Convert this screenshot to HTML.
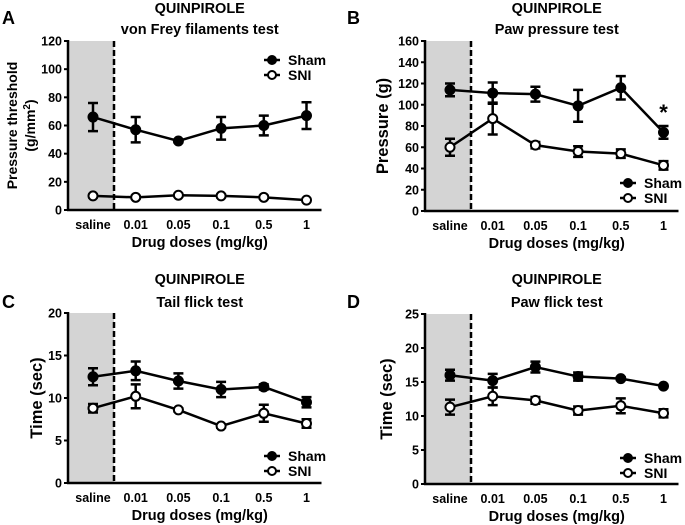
<!DOCTYPE html>
<html><head><meta charset="utf-8"><style>
body{margin:0;background:#fff}
svg{display:block}
svg text{font-family:"Liberation Sans",Arial,sans-serif;font-weight:700}
</style></head><body>
<svg id="fig" width="685" height="525" viewBox="0 0 685 525"></svg>
<script>
const categories=["saline","0.01","0.05","0.1","0.5","1"];
const shamA=[66,57,49,58,60,67], shamAErr=[10,9,1,8,7,9.5];
const sniA=[10,9,10.5,10,9,7], sniAErr=[1,1,1,1,1,1];
const shamB=[114,111,110,99,116,74], shamBErr=[6,10,7,15,11,6];
const sniB=[60,87,62,56,54,43], sniBErr=[8,15,3,5,4,4];
const shamC=[12.5,13.2,12,11,11.3,9.5], shamCErr=[1,1.1,0.9,0.9,0.3,0.6];
const sniC=[8.8,10.2,8.6,6.7,8.2,7], sniCErr=[0.5,1.4,0.2,0.2,1,0.5];
const shamD=[16,15.2,17.2,15.8,15.5,14.4], shamDErr=[0.8,1,0.8,0.6,0.2,0.2];
const sniD=[11.3,12.9,12.3,10.8,11.5,10.4], sniDErr=[1.1,1.3,0.5,0.6,1.1,0.6];
const ticksA=[0,20,40,60,80,100,120], ticksB=[0,20,40,60,80,100,120,140,160];
const ticksC=[0,5,10,15,20], ticksD=[0,5,10,15,20,25];

const NS="http://www.w3.org/2000/svg", svg=document.getElementById('fig');
function mk(tag,attrs,parent,name){const e=document.createElementNS(NS,tag);for(const k in attrs)e.setAttribute(k,attrs[k]);


(parent||svg).appendChild(e);return e;}
function txt(s,attrs,parent,name){attrs['font-weight']='bold';const e=mk('text',attrs,parent,name);e.textContent=s;return e;}

function panel(o){
  const g=mk('g',{},svg,'panel-'+o.letter.toLowerCase());
  const ymax=o.ticks[o.ticks.length-1];
  const Y=v=>o.y0-(v/ymax)*(o.y0-o.y1);
  const X=i=>o.x0+25+i*42.7;
  mk('rect',{x:o.x0,y:o.y1,width:46,height:o.y0-o.y1,fill:'#d4d4d4'},g,'saline-shade');
  mk('line',{x1:o.x0+46,y1:o.y1,x2:o.x0+46,y2:o.y0,stroke:'#000','stroke-width':2.5,'stroke-dasharray':'6,3'},g,'baseline-divider');
  mk('line',{x1:o.x0,y1:o.y1-1,x2:o.x0,y2:o.y0+1,stroke:'#000','stroke-width':2.5},g,'y-axis');
  mk('line',{x1:o.x0-1,y1:o.y0,x2:X(5)+15,y2:o.y0,stroke:'#000','stroke-width':2.5},g,'x-axis');
  o.ticks.forEach(t=>{mk('line',{x1:o.x0-4,y1:Y(t),x2:o.x0,y2:Y(t),stroke:'#000','stroke-width':2},g,'y-tick');
    txt(String(t),{x:o.x0-6,y:Y(t)+4.5,'text-anchor':'end','font-size':12.5},g,'y-tick-label');});
  categories.forEach((c,i)=>txt(c,{x:X(i),y:o.y0+19,'text-anchor':'middle','font-size':12.5},g,'x-tick-label'));
  txt('Drug doses (mg/kg)',{x:X(2.5),y:o.y0+37,'text-anchor':'middle','font-size':14.5},g,'x-axis-title');
  txt('QUINPIROLE',{x:X(2.5),y:o.t1,'text-anchor':'middle','font-size':14.5},g,'chart-title');
  txt(o.sub,{x:X(2.5),y:o.t1+o.tg,'text-anchor':'middle','font-size':14.5},g,'chart-subtitle');
  txt(o.letter,{x:o.lx,y:o.ly,'font-size':18},g,'panel-letter');
  txt(o.ylab,{transform:`translate(${o.ylx},${(o.y0+o.y1)/2}) rotate(-90)`,'text-anchor':'middle','font-size':o.ylfs},g,'y-axis-title');
  if(o.ylab2){const t=txt('(g/mm',{transform:`translate(${o.ylx+18},${(o.y0+o.y1)/2}) rotate(-90)`,'text-anchor':'middle','font-size':14},g,'y-axis-title-units');
    const s=mk('tspan',{dy:-5,'font-size':10},t,'superscript');s.textContent='2';const s2=mk('tspan',{dy:5},t,'paren');s2.textContent=')';}
  [[o.sham,o.shamE,'#000','sham'],[o.sni,o.sniE,'#fff','sni']].forEach(([d,e,fill,nm])=>{
    const sg=mk('g',{},g,'series-'+nm);
    mk('polyline',{points:d.map((v,i)=>X(i)+','+Y(v)).join(' '),fill:'none',stroke:'#000','stroke-width':2.5},sg,nm+'-line');
    d.forEach((v,i)=>{const x=X(i);
      mk('path',{d:`M${x},${Y(v+e[i])}V${Y(v-e[i])}M${x-5},${Y(v+e[i])}H${x+5}M${x-5},${Y(v-e[i])}H${x+5}`,stroke:'#000','stroke-width':2.5,fill:'none'},sg,nm+'-error-bar');
      mk('circle',{cx:x,cy:Y(v),r:4.5,fill:fill,stroke:'#000','stroke-width':2},sg,nm+'-point');});
  });
  [[o.legY,'#000','Sham'],[o.legY+15,'#fff','SNI']].forEach(([y,f,l])=>{
    const lg=mk('g',{},g,'legend-entry');
    mk('line',{x1:o.legX,y1:y,x2:o.legX+16,y2:y,stroke:'#000','stroke-width':2.5},lg,'legend-line');
    mk('circle',{cx:o.legX+8,cy:y,r:4,fill:f,stroke:'#000','stroke-width':2},lg,'legend-marker');
    txt(l,{x:o.legX+24,y:y+5,'font-size':14},lg,'legend-label');});
  if(o.star!==undefined) txt('*',{x:X(o.star),y:Y(o.sham[o.star]+o.shamE[o.star])-6,'text-anchor':'middle','font-size':22},g,'significance-star');
}
panel({letter:'A',lx:2,ly:24,x0:68,y0:210,y1:41,ticks:ticksA,sham:shamA,shamE:shamAErr,sni:sniA,sniE:sniAErr,sub:'von Frey filaments test',t1:13,tg:21,ylab:'Pressure threshold',ylab2:true,ylx:17,ylfs:14,legX:264,legY:60});
panel({letter:'B',lx:347,ly:24,x0:425,y0:211,y1:41,ticks:ticksB,sham:shamB,shamE:shamBErr,sni:sniB,sniE:sniBErr,sub:'Paw pressure test',t1:13,tg:21,ylab:'Pressure (g)',ylx:388,ylfs:16.5,legX:620,legY:183,star:5});
panel({letter:'C',lx:2,ly:308,x0:68,y0:483,y1:313,ticks:ticksC,sham:shamC,shamE:shamCErr,sni:sniC,sniE:sniCErr,sub:'Tail flick test',t1:284,tg:23,ylab:'Time (sec)',ylx:42,ylfs:16.5,legX:264,legY:456});
panel({letter:'D',lx:347,ly:308,x0:425,y0:484,y1:314,ticks:ticksD,sham:shamD,shamE:shamDErr,sni:sniD,sniE:sniDErr,sub:'Paw flick test',t1:284,tg:23,ylab:'Time (sec)',ylx:392,ylfs:16.5,legX:620,legY:458});
</script>
</body></html>
